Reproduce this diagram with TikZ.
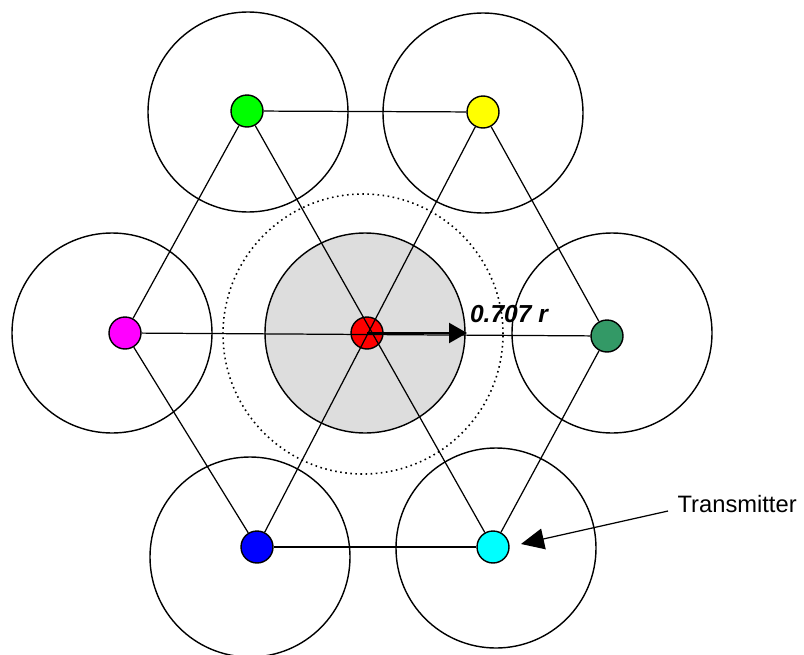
\documentclass[tikz,border=0pt]{standalone}
\usepackage{fontspec}
\setmainfont{Liberation Sans}
\usepackage{tikz}
\usetikzlibrary{arrows.meta,positioning}
\definecolor{cellgray}{RGB}{221,221,221}
\definecolor{seagreen}{RGB}{51,153,102}
\definecolor{txgreen}{RGB}{0,255,0}
\definecolor{txyellow}{RGB}{255,255,0}
\definecolor{txmagenta}{RGB}{255,0,255}
\definecolor{txred}{RGB}{255,0,0}
\definecolor{txblue}{RGB}{0,0,255}
\definecolor{txcyan}{RGB}{0,255,255}

\begin{document}
\begin{tikzpicture}[x=0.02cm, y=0.02cm, line width=0.7pt,
    cell/.style={draw, line width=0.8pt},
    tx/.style={circle, draw, line width=0.8pt, minimum size=0.64cm, inner sep=0pt}]
        \useasboundingbox (0,0) rectangle (804,654);
        % coverage areas
        \fill[cellgray] (365,321) circle (100);
        \draw[cell] (365,321) circle (100);
        \draw[dotted, line width=0.9pt] (363,320) circle (140);
        \draw[cell] (248,542) circle (100);
        \draw[cell] (483,541) circle (100);
        \draw[cell] (112,321) circle (100);
        \draw[cell] (612,321) circle (100);
        \draw[cell] (250,97) circle (100);
        \draw[cell] (496,106) circle (100);
        % transmitters
        \node[tx, fill=txgreen]   (green)   at (247,543) {};
        \node[tx, fill=txyellow]  (yellow)  at (483,542) {};
        \node[tx, fill=txmagenta] (magenta) at (125,321) {};
        \node[tx, fill=txred]     (red)     at (367,321) {};
        \node[tx, fill=seagreen]  (dkgreen) at (607,318) {};
        \node[tx, fill=txblue]    (blue)    at (257,107) {};
        \node[tx, fill=txcyan]    (cyan)    at (493,107) {};
        % links
        \draw (green) -- (yellow);
        \draw (yellow) -- (dkgreen);
        \draw (dkgreen) -- (cyan);
        \draw (cyan) -- (blue);
        \draw (blue) -- (magenta);
        \draw (magenta) -- (green);
        \draw (green) -- (cyan);
        \draw (yellow) -- (blue);
        \draw (magenta) -- (dkgreen);
        % radius
        \coordinate (rtip) at (467,321);
        \draw[line width=1.3pt, -{Triangle[length=0.36cm, width=0.4cm]}] (red.center) -- (rtip);
        \node[font=\fontsize{14}{16}\selectfont\bfseries\itshape] (rlabel) at (509,340) {0.707 r};
        % label
        \node[anchor=west, inner sep=0pt, font=\fontsize{13.5}{16}\selectfont] (txlabel) at (677,150) {Transmitter};
        \coordinate (txtail) at (668,143);
        \coordinate (txtip) at (521,110);
        \draw[-{Triangle[length=0.46cm, width=0.42cm]}] (txtail) -- (txtip);
      \end{tikzpicture}
\end{document}
